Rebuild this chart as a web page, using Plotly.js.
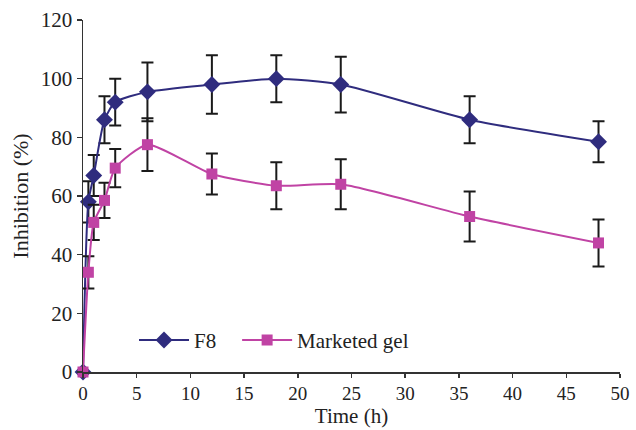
<!DOCTYPE html>
<html><head><meta charset="utf-8">
<script src="https://cdn.plot.ly/plotly-3.0.1.min.js"></script>
<style>html,body{margin:0;padding:0;background:#fff}#chart{width:636px;height:430px}</style>
</head><body><div id="chart"></div>
<script>
var time = [0, 0.5, 1, 2, 3, 6, 12, 18, 24, 36, 48];
var f8 = [0, 58, 67, 86, 92, 95.5, 98, 100, 98, 86, 78.5];
var f8Err = [0, 7, 7, 8, 8, 10, 10, 8, 9.5, 8, 7];
var gel = [0, 34, 51, 58.5, 69.5, 77.5, 67.5, 63.5, 64, 53, 44];
var gelErr = [0, 5.5, 6, 6, 6.5, 9, 7, 8, 8.5, 8.5, 8];
var xTicks = [0, 5, 10, 15, 20, 25, 30, 35, 40, 45, 50];
var yTicks = [0, 20, 40, 60, 80, 100, 120];

var err = function(a){return {type:'data', array:a, visible:true, color:'#1a1a1a', thickness:2, width:6};};
var traces = [
  {x: time, y: f8, name: 'F8', type: 'scatter', mode: 'lines+markers', legend: 'legend', cliponaxis: false,
   line: {color: '#2f2c7e', width: 2, shape: 'spline', smoothing: 0.6},
   marker: {symbol: 'diamond', size: 13, color: '#2f2c7e'},
   error_y: err(f8Err)},
  {x: time, y: gel, name: 'Marketed gel', type: 'scatter', mode: 'lines+markers', legend: 'legend2', cliponaxis: false,
   line: {color: '#c043a4', width: 2, shape: 'spline', smoothing: 0.6},
   marker: {symbol: 'square', size: 11, color: '#c043a4'},
   error_y: err(gelErr)}
];
var fam = '"Liberation Serif", "Times New Roman", serif';
var legFont = {family: fam, size: 21, color: '#222'};
var layout = {
  width: 636, height: 430,
  margin: {l: 83, r: 16, t: 20, b: 58},
  paper_bgcolor: '#fff', plot_bgcolor: '#fff',
  font: {family: fam, color: '#222', size: 20},
  showlegend: true,
  legend: {orientation: 'h', x: 0.095, y: 0.09, xanchor: 'left', yanchor: 'middle',
    bgcolor: 'rgba(0,0,0,0)', font: legFont, itemwidth: 50},
  legend2: {orientation: 'h', x: 0.287, y: 0.09, xanchor: 'left', yanchor: 'middle',
    bgcolor: 'rgba(0,0,0,0)', font: legFont, itemwidth: 50},
  xaxis: {range: [0, 50], tickvals: xTicks, ticktext: xTicks.map(String), showgrid: false, zeroline: false,
    showline: true, linecolor: '#333', linewidth: 1.5, ticks: 'outside', ticklen: 4, tickcolor: '#333', tickwidth: 1.5,
    title: {text: 'Time (h)', font: {family: fam, size: 21, color: '#222'}, standoff: 1},
    tickfont: {family: fam, size: 19, color: '#222'}},
  yaxis: {range: [0, 120], tickvals: yTicks, ticktext: yTicks.map(String), showgrid: false, zeroline: false,
    showline: true, linecolor: '#333', linewidth: 1.5, ticks: 'outside', ticklen: 5, tickcolor: '#333', tickwidth: 1.5,
    title: {text: 'Inhibition (%)', font: {family: fam, size: 22, color: '#222'}, standoff: 6},
    tickfont: {family: fam, size: 21, color: '#222'}}
};
Plotly.newPlot('chart', traces, layout, {displayModeBar: false, staticPlot: true});
</script></body></html>
